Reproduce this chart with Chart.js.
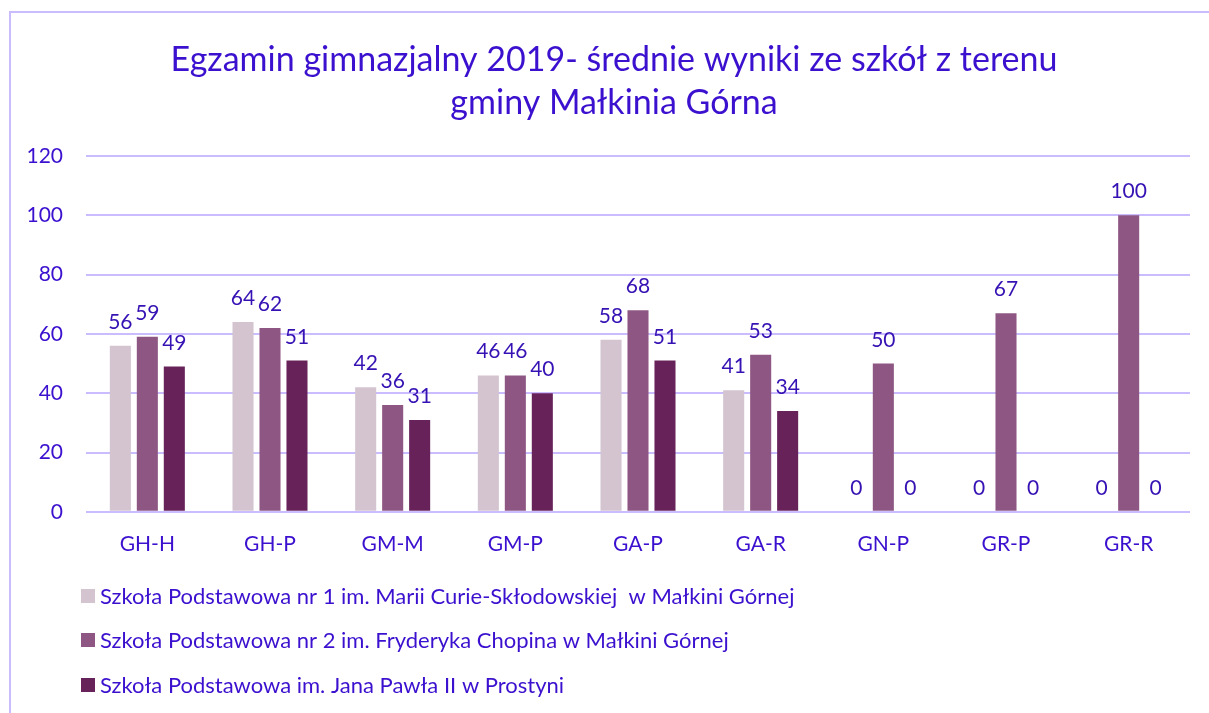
<!DOCTYPE html>
<html>
<head>
<meta charset="utf-8">
<script src="https://cdn.jsdelivr.net/npm/chart.js@4/dist/chart.umd.min.js"></script>
<style>
  html, body { margin: 0; padding: 0; background: #ffffff; }
  #wrap { position: relative; width: 1209px; height: 713px; overflow: hidden; }
  #frame { position: absolute; left: 9px; top: 11px; right: -10px; bottom: -10px;
           border-left: 2px solid #cbbcff; border-top: 2px solid #cbbcff; pointer-events: none; }
  canvas { position: absolute; left: 0; top: 0; }
</style>
</head>
<body>
<div id="wrap">
  <canvas id="c" width="1209" height="713"></canvas>
  <div id="frame"></div>
</div>
<script>
const categories = ["GH-H", "GH-P", "GM-M", "GM-P", "GA-P", "GA-R", "GN-P", "GR-P", "GR-R"];
const seriesNames = [
  "Szkoła Podstawowa nr 1 im. Marii Curie-Skłodowskiej  w Małkini Górnej",
  "Szkoła Podstawowa nr 2 im. Fryderyka Chopina w Małkini Górnej",
  "Szkoła Podstawowa im. Jana Pawła II w Prostyni"
];
const sp1 = [56, 64, 42, 46, 58, 41, 0, 0, 0];
const sp2 = [59, 62, 36, 46, 68, 53, 50, 67, 100];
const sp3 = [49, 51, 31, 40, 51, 34, 0, 0, 0];
const yTicks = [0, 20, 40, 60, 80, 100, 120];
const titleLines = ["Egzamin gimnazjalny 2019- średnie wyniki ze szkół z terenu", "gminy Małkinia Górna"];

const colors = ["#d3c4d0", "#8e5783", "#68225a"];
const textColor = "#3b10cf";
const labelColor = "#3612b4";
const FONT = "Lato, 'Open Sans', sans-serif";

const dataLabels = {
  id: "dataLabels",
  afterDatasetsDraw(chart) {
    const ctx = chart.ctx;
    ctx.save();
    ctx.font = "21px " + FONT;
    ctx.fillStyle = labelColor;
    ctx.textAlign = "center";
    ctx.textBaseline = "alphabetic";
    chart.data.datasets.forEach((ds, i) => {
      const meta = chart.getDatasetMeta(i);
      meta.data.forEach((el, j) => {
        ctx.fillText(String(ds.data[j]), el.x, el.y - 17);
      });
    });
    ctx.restore();
  }
};

const titleAndLegend = {
  id: "titleAndLegend",
  afterDraw(chart) {
    const ctx = chart.ctx;
    ctx.save();
    // title
    ctx.font = "34px " + FONT;
    ctx.fillStyle = textColor;
    ctx.textAlign = "center";
    ctx.textBaseline = "middle";
    const titleRows = [60, 103];
    titleLines.forEach((t, i) => ctx.fillText(t, 614, titleRows[i]));
    // legend
    ctx.font = "22px " + FONT;
    ctx.textAlign = "left";
    const rows = [596, 640, 685];
    chart.data.datasets.forEach((ds, i) => {
      const y = rows[i];
      ctx.fillStyle = ds.backgroundColor;
      ctx.fillRect(81, y - 7, 14, 14);
      ctx.fillStyle = textColor;
      ctx.fillText(ds.label, 100, y + 1);
    });
    ctx.restore();
  }
};

new Chart(document.getElementById("c"), {
  type: "bar",
  data: {
    labels: categories,
    datasets: [
      { label: seriesNames[0], data: sp1, backgroundColor: colors[0] },
      { label: seriesNames[1], data: sp2, backgroundColor: colors[1] },
      { label: seriesNames[2], data: sp3, backgroundColor: colors[2] }
    ]
  },
  options: {
    responsive: false,
    animation: false,
    devicePixelRatio: 1,
    layout: { padding: { top: 156, left: 10, right: 19, bottom: 136 } },
    datasets: { bar: { categoryPercentage: 0.66, barPercentage: 0.78 } },
    plugins: {
      legend: { display: false },
      tooltip: { enabled: false },
      title: { display: false }
    },
    scales: {
      x: {
        grid: { display: false, drawTicks: false },
        border: { display: false },
        ticks: { color: textColor, font: { family: FONT, size: 21 }, padding: 20 }
      },
      y: {
        min: 0, max: 120,
        afterBuildTicks: (s) => { s.ticks = yTicks.map(v => ({ value: v })); },
        afterFit: (s) => { s.width = 76; },
        grid: { color: "#cbbcff", lineWidth: 2, drawTicks: false },
        border: { display: false },
        ticks: { color: textColor, font: { family: FONT, size: 21 }, padding: 23 }
      }
    }
  },
  plugins: [dataLabels, titleAndLegend]
});
</script>
</body>
</html>
